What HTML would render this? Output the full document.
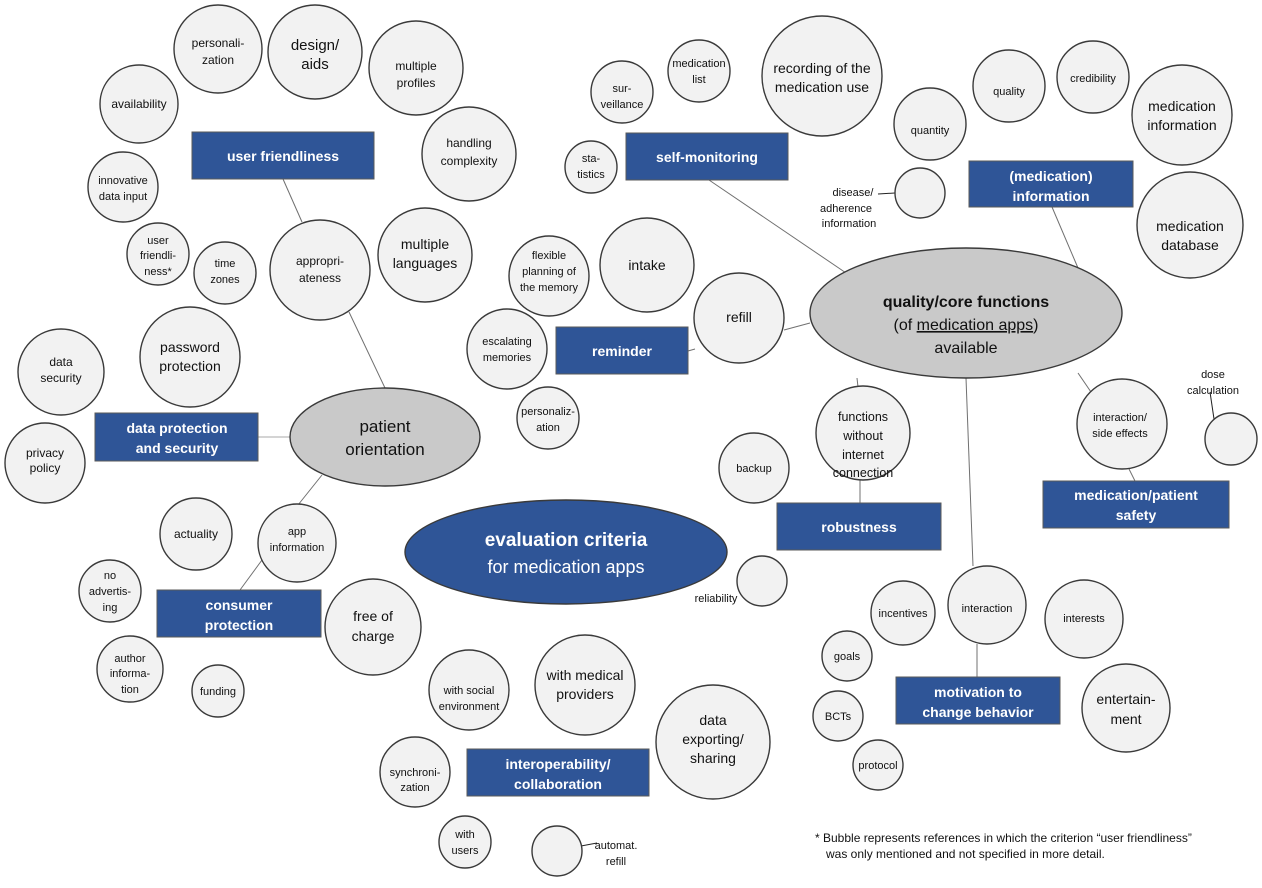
<!DOCTYPE html>
<html><head><meta charset="utf-8"><style>
html,body{margin:0;padding:0;background:#fff}
svg text{font-family:"Liberation Sans",sans-serif;fill:#111}
.c{fill:#f2f2f2;stroke:#3a3a3a;stroke-width:1.4}
.b{fill:#2f5597;stroke:#5a5a5a;stroke-width:1}
.bt{font-weight:bold;font-size:14px}
svg .bt text{fill:#fff}
.l{stroke:#707070;stroke-width:1;fill:none}
</style></head><body>
<svg width="1262" height="883" viewBox="0 0 1262 883" xmlns="http://www.w3.org/2000/svg">
<g class="l">
<line x1="283" y1="179" x2="302" y2="222"/>
<line x1="349" y1="312" x2="385" y2="388"/>
<line x1="258" y1="437" x2="290" y2="437" stroke="#aaa"/>
<line x1="322" y1="475" x2="298" y2="505"/>
<line x1="240" y1="590" x2="262" y2="560"/>
<line x1="709" y1="180" x2="852" y2="277"/>
<line x1="878" y1="194" x2="895" y2="193" stroke="#222"/>
<line x1="1052" y1="207" x2="1078" y2="268"/>
<line x1="688" y1="351" x2="695" y2="349"/>
<line x1="784" y1="330" x2="810" y2="323"/>
<line x1="857" y1="378" x2="858" y2="387"/>
<line x1="860" y1="480" x2="860" y2="503"/>
<line x1="966" y1="378" x2="973" y2="566"/>
<line x1="977" y1="644" x2="977" y2="677"/>
<line x1="1078" y1="373" x2="1091" y2="392"/>
<line x1="1129" y1="469" x2="1135" y2="481"/>
<line x1="1210" y1="392" x2="1214" y2="419" stroke="#222"/>
<line x1="740" y1="588" x2="746" y2="584" stroke="#222"/>
<line x1="581" y1="846" x2="597" y2="843" stroke="#222"/>
</g>
<g class="c">
<circle cx="218" cy="49" r="44"/><circle cx="315" cy="52" r="47"/><circle cx="416" cy="68" r="47"/>
<circle cx="469" cy="154" r="47"/><circle cx="139" cy="104" r="39"/><circle cx="123" cy="187" r="35"/>
<circle cx="158" cy="254" r="31"/><circle cx="225" cy="273" r="31"/><circle cx="320" cy="270" r="50"/>
<circle cx="425" cy="255" r="47"/><circle cx="190" cy="357" r="50"/><circle cx="61" cy="372" r="43"/>
<circle cx="45" cy="463" r="40"/>
<circle cx="622" cy="92" r="31"/><circle cx="699" cy="71" r="31"/><circle cx="822" cy="76" r="60"/>
<circle cx="591" cy="167" r="26"/><circle cx="930" cy="124" r="36"/><circle cx="1009" cy="86" r="36"/>
<circle cx="1093" cy="77" r="36"/><circle cx="1182" cy="115" r="50"/><circle cx="1190" cy="225" r="53"/>
<circle cx="920" cy="193" r="25"/><circle cx="1122" cy="424" r="45"/><circle cx="1231" cy="439" r="26"/>
<circle cx="863" cy="433" r="47"/><circle cx="754" cy="468" r="35"/>
<circle cx="549" cy="276" r="40"/><circle cx="647" cy="265" r="47"/><circle cx="739" cy="318" r="45"/>
<circle cx="507" cy="349" r="40"/><circle cx="548" cy="418" r="31"/>
<circle cx="762" cy="581" r="25"/><circle cx="196" cy="534" r="36"/><circle cx="297" cy="543" r="39"/>
<circle cx="110" cy="591" r="31"/><circle cx="373" cy="627" r="48"/><circle cx="130" cy="669" r="33"/>
<circle cx="218" cy="691" r="26"/><circle cx="469" cy="690" r="40"/><circle cx="585" cy="685" r="50"/>
<circle cx="713" cy="742" r="57"/><circle cx="415" cy="772" r="35"/><circle cx="465" cy="842" r="26"/>
<circle cx="557" cy="851" r="25"/><circle cx="987" cy="605" r="39"/><circle cx="903" cy="613" r="32"/>
<circle cx="1084" cy="619" r="39"/><circle cx="847" cy="656" r="25"/><circle cx="838" cy="716" r="25"/>
<circle cx="878" cy="765" r="25"/><circle cx="1126" cy="708" r="44"/>
</g>
<ellipse cx="385" cy="437" rx="95" ry="49" fill="#c9c9c9" stroke="#3a3a3a" stroke-width="1.4"/>
<ellipse cx="966" cy="313" rx="156" ry="65" fill="#c9c9c9" stroke="#3a3a3a" stroke-width="1.4"/>
<ellipse cx="566" cy="552" rx="161" ry="52" fill="#2f5597" stroke="#3a3a3a" stroke-width="1.4"/>
<rect class="b" x="192" y="132" width="182" height="47"/>
<rect class="b" x="95" y="413" width="163" height="48"/>
<rect class="b" x="626" y="133" width="162" height="47"/>
<rect class="b" x="969" y="161" width="164" height="46"/>
<rect class="b" x="1043" y="481" width="186" height="47"/>
<rect class="b" x="777" y="503" width="164" height="47"/>
<rect class="b" x="556" y="327" width="132" height="47"/>
<rect class="b" x="157" y="590" width="164" height="47"/>
<rect class="b" x="467" y="749" width="182" height="47"/>
<rect class="b" x="896" y="677" width="164" height="47"/>
<g class="bt" text-anchor="middle">
<text x="283" y="161">user friendliness</text>
<text x="177" y="433">data protection</text><text x="177" y="453">and security</text>
<text x="707" y="162">self-monitoring</text>
<text x="1051" y="181">(medication)</text><text x="1051" y="201">information</text>
<text x="1136" y="500">medication/patient</text><text x="1136" y="520">safety</text>
<text x="859" y="532">robustness</text>
<text x="622" y="356">reminder</text>
<text x="239" y="610">consumer</text><text x="239" y="630">protection</text>
<text x="558" y="769">interoperability/</text><text x="558" y="789">collaboration</text>
<text x="978" y="697">motivation to</text><text x="978" y="717">change behavior</text>
</g>
<g text-anchor="middle">
<text x="385" y="432" font-size="17">patient</text><text x="385" y="455" font-size="17">orientation</text>
<text x="966" y="307" font-size="16" font-weight="bold">quality/core functions</text>
<text x="966" y="330" font-size="16">(of <tspan text-decoration="underline">medication apps</tspan>)</text>
<text x="966" y="353" font-size="16">available</text>
<text x="566" y="546" font-size="19" font-weight="bold" style="fill:#fff">evaluation criteria</text>
<text x="566" y="573" font-size="18" style="fill:#fff">for medication apps</text>
</g>
<g text-anchor="middle" font-size="12">
<text x="218" y="47">personali-</text><text x="218" y="64">zation</text>
<text x="315" y="50" font-size="15">design/</text><text x="315" y="69" font-size="15">aids</text>
<text x="416" y="70">multiple</text><text x="416" y="87">profiles</text>
<text x="469" y="147">handling</text><text x="469" y="165">complexity</text>
<text x="139" y="108">availability</text>
<text x="123" y="184" font-size="11">innovative</text><text x="123" y="200" font-size="11">data input</text>
<text x="158" y="244" font-size="11">user</text><text x="158" y="259" font-size="11">friendli-</text><text x="158" y="275" font-size="11">ness*</text>
<text x="225" y="267" font-size="11">time</text><text x="225" y="283" font-size="11">zones</text>
<text x="320" y="265">appropri-</text><text x="320" y="282">ateness</text>
<text x="425" y="249" font-size="14">multiple</text><text x="425" y="268" font-size="14">languages</text>
<text x="190" y="352" font-size="14">password</text><text x="190" y="371" font-size="14">protection</text>
<text x="61" y="366">data</text><text x="61" y="382">security</text>
<text x="45" y="457">privacy</text><text x="45" y="472">policy</text>
<text x="622" y="92" font-size="11">sur-</text><text x="622" y="108" font-size="11">veillance</text>
<text x="699" y="67" font-size="11">medication</text><text x="699" y="83" font-size="11">list</text>
<text x="822" y="73" font-size="14">recording of the</text><text x="822" y="92" font-size="14">medication use</text>
<text x="591" y="162" font-size="11">sta-</text><text x="591" y="178" font-size="11">tistics</text>
<text x="930" y="134" font-size="11">quantity</text>
<text x="1009" y="95" font-size="11">quality</text>
<text x="1093" y="82" font-size="11">credibility</text>
<text x="1182" y="111" font-size="14">medication</text><text x="1182" y="130" font-size="14">information</text>
<text x="1190" y="231" font-size="14">medication</text><text x="1190" y="250" font-size="14">database</text>
<text x="1120" y="421" font-size="11">interaction/</text><text x="1120" y="437" font-size="11">side effects</text>
<text x="863" y="421" font-size="12.5">functions</text><text x="863" y="440" font-size="12.5">without</text><text x="863" y="459" font-size="12.5">internet</text><text x="863" y="477" font-size="12.5">connection</text>
<text x="754" y="472" font-size="11">backup</text>
<text x="549" y="259" font-size="11">flexible</text><text x="549" y="275" font-size="11">planning of</text><text x="549" y="291" font-size="11">the memory</text>
<text x="647" y="270" font-size="14">intake</text>
<text x="739" y="322" font-size="14">refill</text>
<text x="507" y="345" font-size="11">escalating</text><text x="507" y="361" font-size="11">memories</text>
<text x="548" y="415" font-size="11">personaliz-</text><text x="548" y="431" font-size="11">ation</text>
<text x="196" y="538">actuality</text>
<text x="297" y="535" font-size="11">app</text><text x="297" y="551" font-size="11">information</text>
<text x="110" y="579" font-size="11">no</text><text x="110" y="595" font-size="11">advertis-</text><text x="110" y="611" font-size="11">ing</text>
<text x="373" y="621" font-size="14">free of</text><text x="373" y="641" font-size="14">charge</text>
<text x="130" y="662" font-size="11">author</text><text x="130" y="677" font-size="11">informa-</text><text x="130" y="693" font-size="11">tion</text>
<text x="218" y="695" font-size="11">funding</text>
<text x="469" y="694" font-size="11">with social</text><text x="469" y="710" font-size="11">environment</text>
<text x="585" y="680" font-size="14">with medical</text><text x="585" y="699" font-size="14">providers</text>
<text x="713" y="725" font-size="14">data</text><text x="713" y="744" font-size="14">exporting/</text><text x="713" y="763" font-size="14">sharing</text>
<text x="415" y="776" font-size="11">synchroni-</text><text x="415" y="791" font-size="11">zation</text>
<text x="465" y="838" font-size="11">with</text><text x="465" y="854" font-size="11">users</text>
<text x="987" y="612" font-size="11">interaction</text>
<text x="903" y="617" font-size="11">incentives</text>
<text x="1084" y="622" font-size="11">interests</text>
<text x="847" y="660" font-size="11">goals</text>
<text x="838" y="720" font-size="11">BCTs</text>
<text x="878" y="769" font-size="11">protocol</text>
<text x="1126" y="704" font-size="14">entertain-</text><text x="1126" y="724" font-size="14">ment</text>
<text x="853" y="196" font-size="11">disease/</text><text x="846" y="212" font-size="11">adherence</text><text x="849" y="227" font-size="11">information</text>
<text x="1213" y="378" font-size="11">dose</text><text x="1213" y="394" font-size="11">calculation</text>
<text x="716" y="602" font-size="11">reliability</text>
<text x="616" y="849" font-size="11">automat.</text><text x="616" y="865" font-size="11">refill</text>
</g>
<text x="815" y="842" font-size="12">* Bubble represents references in which the criterion “user friendliness”</text>
<text x="826" y="858" font-size="12">was only mentioned and not specified in more detail.</text>
</svg>
</body></html>
